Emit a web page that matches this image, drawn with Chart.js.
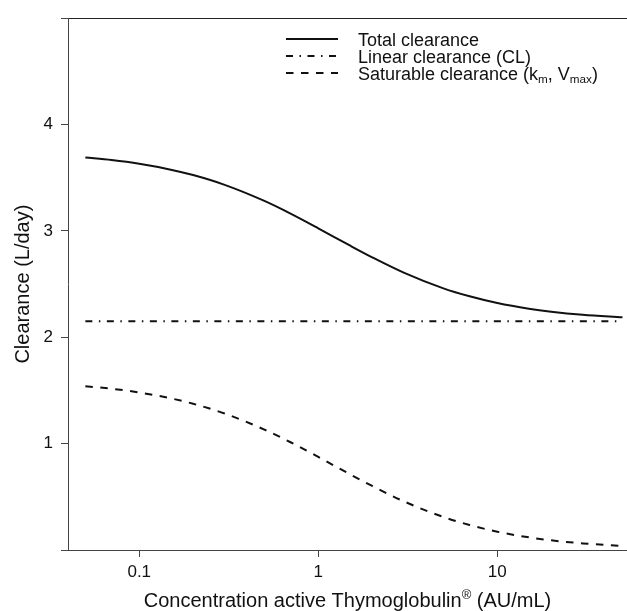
<!DOCTYPE html>
<html>
<head>
<meta charset="utf-8">
<script src="https://cdn.jsdelivr.net/npm/chart.js@4.4.1/dist/chart.umd.min.js"></script>
<style>
    html, body { margin: 0; padding: 0; background: #fff; }
</style>
</head>
<body>
<canvas id="clearanceChart" width="627" height="611"></canvas>
<script>
// Data (concentration in AU/mL, clearance in L/day)
const concentrations = [0.05, 0.07, 0.1, 0.15, 0.2, 0.3, 0.5, 0.7, 1, 1.5, 2, 3, 5, 7, 10, 15, 20, 30, 50];
const totalClearance = [3.690, 3.666, 3.631, 3.576, 3.525, 3.433, 3.282, 3.163, 3.025, 2.863, 2.752, 2.608, 2.460, 2.385, 2.322, 2.269, 2.241, 2.212, 2.188];
const linearClearance = [2.15, 2.15, 2.15, 2.15, 2.15, 2.15, 2.15, 2.15, 2.15, 2.15, 2.15, 2.15, 2.15, 2.15, 2.15, 2.15, 2.15, 2.15, 2.15];
const saturableClearance = [1.540, 1.516, 1.481, 1.426, 1.375, 1.283, 1.132, 1.013, 0.875, 0.713, 0.602, 0.458, 0.310, 0.235, 0.172, 0.119, 0.091, 0.062, 0.038];

const xTickValues = [0.1, 1, 10];
const yTickValues = [0, 1, 2, 3, 4, 5];
const yTickLabels = ['', '1', '2', '3', '4', ''];

const FONT = '"Liberation Sans", Arial, Helvetica, sans-serif';
const INK = '#111';
const AXIS = '#444';

const toPoints = (values) => concentrations.map((c, i) => ({ x: c, y: values[i] }));

// legend labels, split in pieces so subscripts can be drawn
const legendLabels = [
    [{ t: 'Total clearance' }],
    [{ t: 'Linear clearance (CL)' }],
    [{ t: 'Saturable clearance (k' }, { t: 'm', sub: true }, { t: ', V' }, { t: 'max', sub: true }, { t: ')' }]
];
const xTitle = [{ t: 'Concentration active Thymoglobulin' }, { t: '\u00AE', sup: true }, { t: ' (AU/mL)' }];
const yTitle = 'Clearance (L/day)';

const richWidth = (ctx, parts, size) => {
    let w = 0;
    parts.forEach(p => {
        const s = p.sub || p.sup ? size * 0.65 : size;
        ctx.font = `${s}px ${FONT}`;
        w += ctx.measureText(p.t).width;
    });
    return w;
};

const drawRich = (ctx, parts, x, y, size) => {
    parts.forEach(p => {
        const s = p.sub || p.sup ? size * 0.65 : size;
        let dy = 0;
        if (p.sub) dy = size * 0.2;
        if (p.sup) dy = -size * 0.42;
        ctx.font = `${s}px ${FONT}`;
        ctx.fillText(p.t, x, y + dy);
        x += ctx.measureText(p.t).width;
    });
};

const textPlugin = {
    id: 'textPlugin',
    afterDraw(chart) {
        const { ctx, chartArea } = chart;
        ctx.save();
        ctx.fillStyle = INK;
        ctx.textBaseline = 'alphabetic';
        ctx.textAlign = 'left';

        // Legend inside plot
        const lineX1 = 286, lineX2 = 338, textX = 358;
        const rowY = [39, 56, 73];
        chart.data.datasets.forEach((ds, i) => {
            const y = rowY[i];
            ctx.save();
            ctx.strokeStyle = ds.borderColor;
            ctx.lineWidth = ds.borderWidth;
            ctx.setLineDash(ds.borderDash || []);
            ctx.beginPath();
            ctx.moveTo(lineX1, y);
            ctx.lineTo(lineX2, y);
            ctx.stroke();
            ctx.restore();
            drawRich(ctx, legendLabels[i], textX, y + 6.5, 18);
        });

        // X axis title
        const cx = (chartArea.left + chartArea.right) / 2;
        const w = richWidth(ctx, xTitle, 20);
        drawRich(ctx, xTitle, cx - w / 2, 607, 20);

        // Y axis title
        const cy = (chartArea.top + chartArea.bottom) / 2;
        ctx.translate(29, cy);
        ctx.rotate(-Math.PI / 2);
        ctx.textAlign = 'center';
        ctx.font = `20px ${FONT}`;
        ctx.fillText(yTitle, 0, 0);
        ctx.restore();
    }
};

const lineStyle = {
    borderColor: INK,
    borderWidth: 2,
    pointRadius: 0,
    fill: false,
    cubicInterpolationMode: 'monotone',
    borderCapStyle: 'butt'
};

new Chart(document.getElementById('clearanceChart'), {
    type: 'line',
    data: {
        datasets: [
            { ...lineStyle, label: 'Total clearance', data: toPoints(totalClearance) },
            { ...lineStyle, label: 'Linear clearance (CL)', data: toPoints(linearClearance), borderDash: [7, 6.5, 1.5, 6.5] },
            { ...lineStyle, label: 'Saturable clearance', data: toPoints(saturableClearance), borderDash: [7.5, 7.5] }
        ]
    },
    options: {
        responsive: false,
        animation: false,
        devicePixelRatio: 1,
        layout: { padding: { top: 14, left: 0, right: 0, bottom: 0 } },
        plugins: {
            legend: { display: false },
            tooltip: { enabled: false }
        },
        scales: {
            x: {
                type: 'logarithmic',
                min: 0.04,
                max: 53,
                afterBuildTicks: (scale) => {
                    scale.ticks = xTickValues.map(v => ({ value: v }));
                },
                afterFit: (scale) => { scale.height = 61; },
                ticks: {
                    callback: (value) => String(value),
                    font: { size: 17, family: FONT },
                    color: INK,
                    padding: 5,
                    maxRotation: 0,
                    autoSkip: false
                },
                grid: {
                    drawOnChartArea: false,
                    tickLength: 7,
                    color: AXIS
                },
                border: { color: AXIS, width: 1 }
            },
            y: {
                type: 'linear',
                min: 0,
                max: 5,
                afterBuildTicks: (scale) => {
                    scale.ticks = yTickValues.map(v => ({ value: v }));
                },
                afterFit: (scale) => { scale.width = 68; },
                ticks: {
                    callback: (value) => yTickLabels[yTickValues.indexOf(value)],
                    font: { size: 17, family: FONT },
                    color: INK,
                    padding: 8
                },
                grid: {
                    drawOnChartArea: true,
                    tickLength: 7,
                    color: (c) => (c.tick && c.tick.value === 5 ? '#222' : 'rgba(0,0,0,0)'),
                    tickColor: AXIS
                },
                border: { color: AXIS, width: 1 }
            }
        }
    },
    plugins: [textPlugin]
});
</script>
</body>
</html>
